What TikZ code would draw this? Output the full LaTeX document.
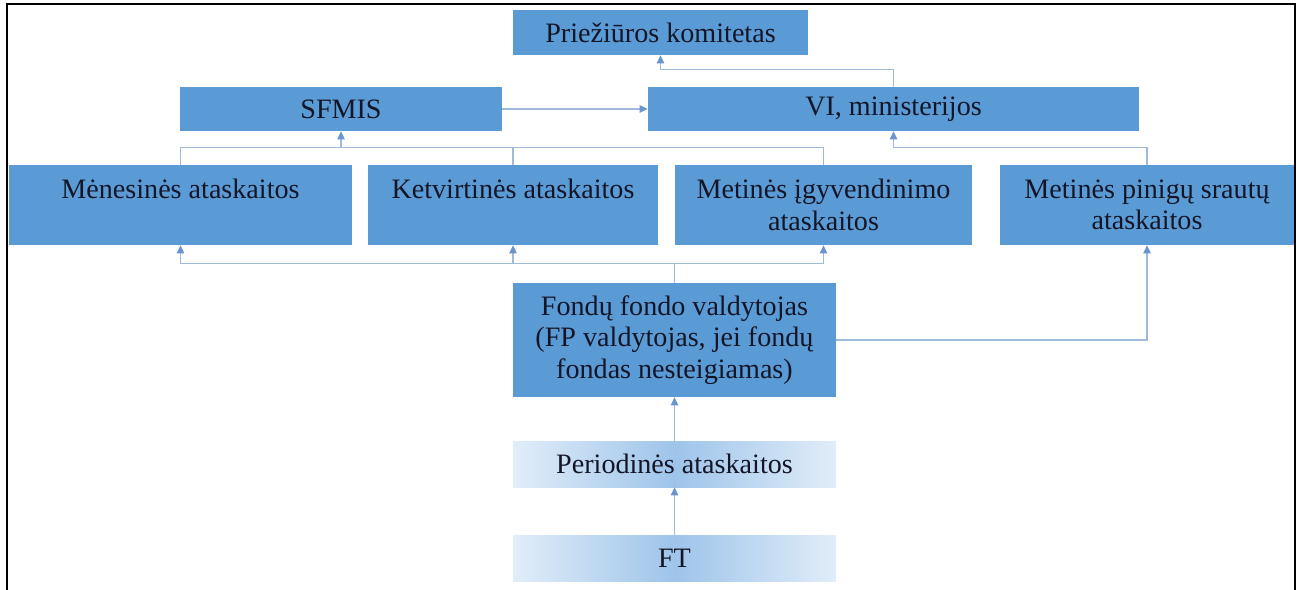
\documentclass[tikz,border=0pt]{standalone}
\usepackage{fontspec}
\setmainfont{Liberation Serif}
\usepackage{xcolor}
\usepackage{tikz}
\usetikzlibrary{arrows.meta, positioning, calc}
\definecolor{myblue}{RGB}{91,155,213}
\definecolor{mytext}{RGB}{20,22,40}
\definecolor{myline}{RGB}{160,186,220}
\definecolor{mytip}{RGB}{105,148,205}
\definecolor{gradedge}{RGB}{225,237,249}
\definecolor{gradmid}{RGB}{158,196,234}
\tikzset{
  box/.style={rectangle, fill=myblue, text=mytext, align=center,
    inner sep=0pt, font=\fontsize{16}{18}\selectfont},
  gradbox/.style={rectangle, left color=gradedge, right color=gradedge,
    middle color=gradmid, text=mytext, align=center,
    inner sep=0pt, font=\fontsize{16}{18}\selectfont},
  arrow/.style={-{Triangle[length=1.6mm, width=1.5mm, color=mytip]}, line width=0.6pt, color=myline},
  line/.style={line width=0.6pt, color=myline}
}

\begin{document}
\begin{tikzpicture}
  \useasboundingbox (0,0) rectangle (25.96,-11.78);
  % frame
  \draw[line width=1.1pt] (0.14,-11.9) -- (0.14,-0.08) -- (25.9,-0.08) -- (25.9,-11.9);

  % top level
  \node[box, minimum width=5.9cm, minimum height=0.9cm] (kom) at (13.21,-0.65) {Priežiūros komitetas};
  \node[box, minimum width=6.44cm, minimum height=0.88cm] (sfmis) at (6.82,-2.18) {SFMIS};
  \node[box, minimum width=9.82cm, minimum height=0.88cm] (vi) at (17.87,-2.18) {VI, ministerijos};

  % reports
  \node[box, minimum width=6.86cm, minimum height=1.6cm] (men) at (3.61,-4.1) {Mėnesinės ataskaitos\\~};
  \node[box, minimum width=5.8cm, minimum height=1.6cm] (ketv) at (10.26,-4.1) {Ketvirtinės ataskaitos\\~};
  \node[box, minimum width=5.94cm, minimum height=1.6cm] (meti) at (16.47,-4.1) {Metinės įgyvendinimo\\ataskaitos};
  \node[box, minimum width=5.88cm, minimum height=1.6cm] (mpin) at (22.94,-4.1) {Metinės pinigų srautų\\ataskaitos};

  % manager and sources
  \node[box, minimum width=6.46cm, minimum height=2.28cm] (ffv) at (13.49,-6.8) {Fondų fondo valdytojas\\(FP valdytojas, jei fondų\\fondas nesteigiamas)};
  \node[gradbox, minimum width=6.46cm, minimum height=0.92cm] (per) at (13.49,-9.28) {Periodinės ataskaitos};
  \node[gradbox, minimum width=6.46cm, minimum height=0.92cm] (ft) at (13.49,-11.16) {FT};

  % upper connectors
  \draw[arrow] (vi.north) -- ++(0,0.34) -| (kom.south);
  \draw[arrow] (sfmis.east) -- (vi.west);
  \coordinate (topbus) at ($(men.north)+(0,0.34)$);
  \draw[line] (men.north) |- (meti.north |- topbus) -- (meti.north);
  \draw[line] (ketv.north) -- (ketv.north |- topbus);
  \draw[arrow] (sfmis.south |- topbus) -- (sfmis.south);
  \draw[arrow] (mpin.north) -- (mpin.north |- topbus) -| (vi.south);

  % lower connectors
  \coordinate (lowbus) at ($(ffv.north)+(0,0.38)$);
  \draw[line] (ffv.north) -- (lowbus);
  \draw[line] (men.south |- lowbus) -- (meti.south |- lowbus);
  \foreach \b in {men,ketv,meti}
    \draw[arrow] (\b.south |- lowbus) -- (\b.south);
  \draw[arrow] (ffv.east) -| (mpin.south);
  \draw[arrow] (per.north) -- (ffv.south);
  \draw[arrow] (ft.north) -- (per.south);
\end{tikzpicture}
\end{document}
